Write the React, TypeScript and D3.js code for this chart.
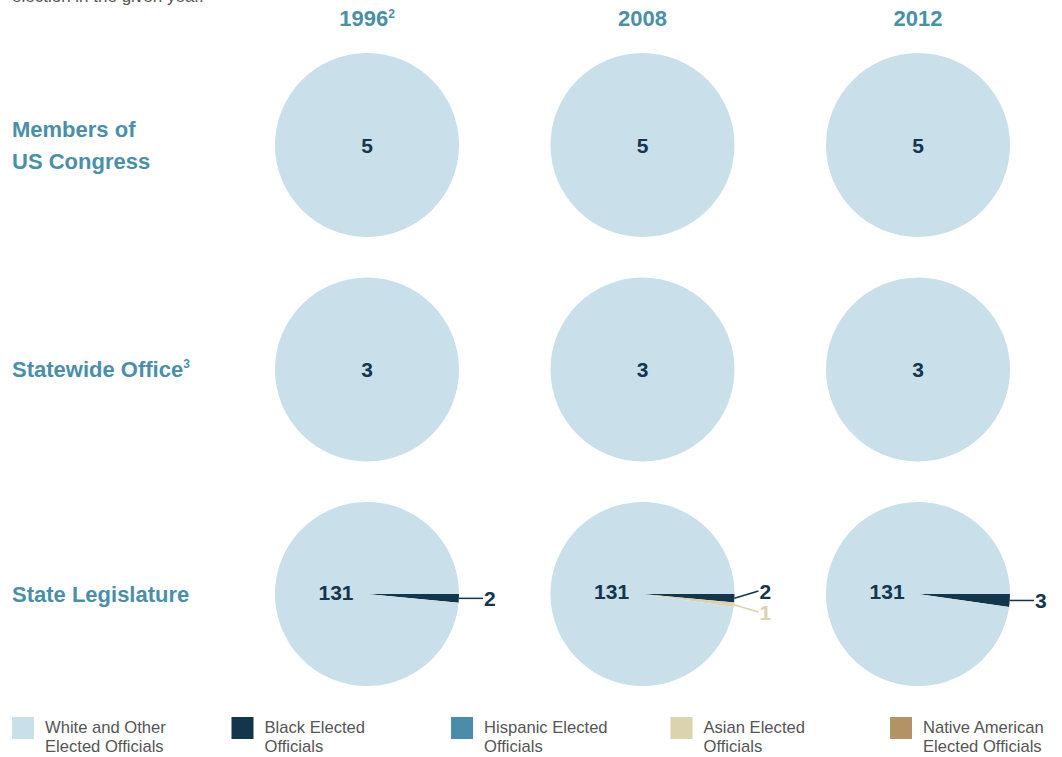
import React from "react";
import * as d3 from "d3";

const years = ["1996", "2008", "2012"];
const yearNotes = ["2", "", ""];
const offices = [["Members of", "US Congress"], ["Statewide Office"], ["State Legislature"]];
const officeNotes = ["", "3", ""];
const groups = ["Black Elected Officials", "Hispanic Elected Officials", "Asian Elected Officials", "Native American Elected Officials", "White and Other Elected Officials"];
// values [office][year]
const whiteVals = [[5, 5, 5], [3, 3, 3], [131, 131, 131]];
const blackVals = [[0, 0, 0], [0, 0, 0], [2, 2, 3]];
const hispanicVals = [[0, 0, 0], [0, 0, 0], [0, 0, 0]];
const asianVals = [[0, 0, 0], [0, 0, 0], [0, 1, 0]];
const nativeVals = [[0, 0, 0], [0, 0, 0], [0, 0, 0]];
const legendItems = [
  ["White and Other", "Elected Officials"],
  ["Black Elected", "Officials"],
  ["Hispanic Elected", "Officials"],
  ["Asian Elected", "Officials"],
  ["Native American", "Elected Officials"],
];

const W = 1062, H = 757;
const FONT = "'Liberation Sans', Arial, Helvetica, sans-serif";
const colWhite = "#c9dfe9", colBlack = "#14364d", colHisp = "#4a8ca9", colAsian = "#dbd2b0", colNative = "#b39265";
const groupColors = [colBlack, colHisp, colAsian, colNative, colWhite];
const legendColors = [colWhite, colBlack, colHisp, colAsian, colNative];
const headColor = "#4a8fa9";
const numColor = "#14364d";

const xScale = d3.scalePoint<string>().domain(years).range([367, 918]);
const yScale = d3.scalePoint<string>().domain(offices.map((o) => o.join(" "))).range([145, 594]);
const R = 92;
const legendX = d3.scalePoint<number>().domain(d3.range(legendItems.length)).range([12, 890]);

export default function App() {
  const pie = d3.pie<number>().sort(null).value((d) => d).startAngle(Math.PI / 2).endAngle(Math.PI / 2 + 2 * Math.PI);
  const arc = d3.arc<d3.PieArcDatum<number>>().innerRadius(0).outerRadius(R);

  const cells: React.ReactNode[] = [];
  offices.forEach((off, oi) => {
    years.forEach((yr, yi) => {
      const cx = xScale(yr)!;
      const cy = yScale(off.join(" "))!;
      const vals = [blackVals[oi][yi], hispanicVals[oi][yi], asianVals[oi][yi], nativeVals[oi][yi], whiteVals[oi][yi]];
      const arcs = pie(vals);
      const total = d3.sum(vals);
      const small = arcs.map((a, i) => ({ a, i })).filter(({ a, i }) => i < 4 && a.value > 0);
      const mids = small.map(({ a }) => {
        const m = (a.startAngle + a.endAngle) / 2;
        return { m, x: Math.sin(m) * R, y: -Math.cos(m) * R };
      });
      const meanY = d3.mean(mids, (d) => d.y) ?? 0;
      const spread = 21;
      cells.push(
        <g key={`${oi}-${yi}`} transform={`translate(${cx},${cy})`}>
          {arcs.map((a, i) =>
            a.value > 0 ? <path key={i} d={arc(a)!} fill={groupColors[i]} /> : null
          )}
          {arcs.map((a, i) => {
            if (i !== 4 || a.value <= 0) return null;
            const full = a.value === total;
            const m = (a.startAngle + a.endAngle) / 2;
            const lx = full ? 0 : Math.sin(m) * 31;
            const ly = full ? 0 : -Math.cos(m) * 31;
            return (
              <text key="w" x={lx} y={ly} dy="0.36em" textAnchor="middle" fontFamily={FONT} fontWeight="bold" fontSize={21} fill={numColor}>
                {a.value}
              </text>
            );
          })}
          {small.map(({ a, i }, k) => {
            const p = mids[k];
            const ty = small.length > 1 ? meanY + (k - (small.length - 1) / 2) * spread : p.y;
            const ex = R + 24;
            const c = i === 2 ? colAsian : groupColors[i];
            return (
              <g key={`s${i}`}>
                <line x1={p.x} y1={p.y} x2={ex} y2={ty} stroke={c} strokeWidth={1.5} />
                <text x={ex + 1} y={ty} dy="0.36em" fontFamily={FONT} fontWeight="bold" fontSize={21} fill={c}>
                  {a.value}
                </text>
              </g>
            );
          })}
        </g>
      );
    });
  });

  return (
    <svg width={W} height={H} style={{ position: "absolute", left: 0, top: 0, background: "#fff" }} fontFamily={FONT}>
      <text x={12} y={2} fontSize={17} fill="#555" fontFamily={FONT}>election in the given year.</text>
      {years.map((yr, i) => (
        <text key={yr} x={xScale(yr)!} y={26} textAnchor="middle" fontSize={22} fontWeight="bold" fill={headColor}>
          {yr}
          {yearNotes[i] ? <tspan fontSize={12} dy={-8}>{yearNotes[i]}</tspan> : null}
        </text>
      ))}
      {offices.map((off, oi) => {
        const cy = yScale(off.join(" "))!;
        const n = off.length;
        return (
          <text key={oi} x={12} y={cy} fontSize={22} fontWeight="bold" fill={headColor}>
            {off.map((line, li) => (
              <tspan key={li} x={12} y={cy + (li - (n - 1) / 2) * 32} dy="0.36em">
                {line}
                {li === n - 1 && officeNotes[oi] ? <tspan fontSize={12} dy={-9}>{officeNotes[oi]}</tspan> : null}
              </tspan>
            ))}
          </text>
        );
      })}
      {cells}
      {legendItems.map((lines, i) => {
        const x = legendX(i)!;
        return (
          <g key={i}>
            <rect x={x} y={717} width={22} height={22} fill={legendColors[i]} />
            {lines.map((l, li) => (
              <text key={li} x={x + 33} y={733 + li * 19} fontSize={16.6} fill="#555" fontWeight={300}>
                {l}
              </text>
            ))}
          </g>
        );
      })}
    </svg>
  );
}
